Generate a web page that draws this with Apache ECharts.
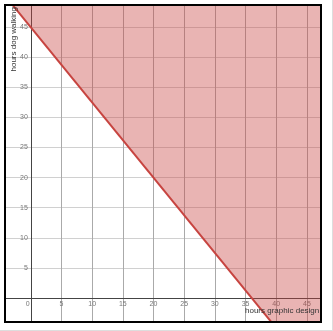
<!DOCTYPE html>
<html><head><meta charset="utf-8">
<script src="https://cdn.jsdelivr.net/npm/echarts@6/dist/echarts.min.js"></script>
<style>html,body{margin:0;padding:0;background:#fff}#c{width:333px;height:331px;box-sizing:border-box;border-right:1px solid #ddd;border-bottom:1px solid #ddd}</style>
</head><body><div id="c"></div>
<script>
const xAxisName = 'hours graphic design';
const yAxisName = 'hours dog walking';
const xRange = [-4.2, 47.3];
const yRange = [-4, 48.7];
const xGridValues = [0, 5, 10, 15, 20, 25, 30, 35, 40, 45];
const yGridValues = [0, 5, 10, 15, 20, 25, 30, 35, 40, 45];
const xTickLabels = [0, 5, 10, 15, 20, 25, 30, 35, 40, 45];
const yTickLabels = [5, 10, 15, 20, 25, 30, 35, 40, 45];
// boundary line of the inequality: passes through these intercepts
const yIntercept = 45;  // value at x = 0
const xIntercept = 36;  // value at y = 0

const slope = -yIntercept / xIntercept;
const boundary = [xRange[0], xRange[1]].map(x => [x, yIntercept + slope * x]);

const chart = echarts.init(document.getElementById('c'));
const grid = { left: 5, top: 5, right: 11, bottom: 8 };
chart.setOption({
  animation: false,
  grid: Object.assign({ show: true, borderColor: '#000', borderWidth: 2, z: 10,
          containLabel: false, outerBoundsMode: 'none' }, grid),
  xAxis: {
    type: 'value', min: xRange[0], max: xRange[1], position: 'bottom',
    axisLine: { onZero: false, lineStyle: { color: '#444', width: 1 } },
    axisTick: { show: false, customValues: xGridValues },
    axisLabel: { color: '#777', fontSize: 7, fontFamily: 'Liberation Sans', margin: 3,
      customValues: xTickLabels, showMinLabel: true, showMaxLabel: true, hideOverlap: false,
      formatter: v => v === 0 ? '{z|0}' : String(v),
      rich: { z: { padding: [0, 6, 0, 0], fontSize: 7, color: '#777', fontFamily: 'Liberation Sans' } } },
    splitLine: { show: true, lineStyle: { color: '#aaa', width: 1 } }
  },
  yAxis: {
    type: 'value', min: yRange[0], max: yRange[1], position: 'left',
    axisLine: { onZero: false, lineStyle: { color: '#444', width: 1 } },
    axisTick: { show: false, customValues: yGridValues },
    axisLabel: { color: '#777', fontSize: 7, fontFamily: 'Liberation Sans', margin: 3,
      customValues: yTickLabels, showMinLabel: true, showMaxLabel: true, hideOverlap: false },
    splitLine: { show: true, lineStyle: { color: '#d0d0d0', width: 1 } }
  },
  series: [{
    type: 'line', data: boundary, symbol: 'none', clip: true,
    lineStyle: { color: '#c74440', width: 2 },
    areaStyle: { color: '#c74440', opacity: 0.4, origin: 'end' }
  }],
  graphic: [
    { type: 'text', left: 245, top: 307, z: 20,
      style: { text: xAxisName, fontSize: 8, fontFamily: 'Liberation Sans', fill: '#333' } },
    { type: 'text', x: 14, y: 7, rotation: Math.PI / 2, z: 20,
      style: { text: yAxisName, fontSize: 8, fontFamily: 'Liberation Sans', fill: '#333', align: 'right', verticalAlign: 'middle' } }
  ]
});
// move each axis (line + labels) onto the other axis' zero, using the library's scale
const origin = chart.convertToPixel({ gridIndex: 0 }, [0, 0]);
const corner = chart.convertToPixel({ gridIndex: 0 }, [xRange[0], yRange[0]]);
chart.setOption({
  xAxis: { offset: -(corner[1] - origin[1]) },
  yAxis: { offset: -(origin[0] - corner[0]) }
});
</script></body></html>
